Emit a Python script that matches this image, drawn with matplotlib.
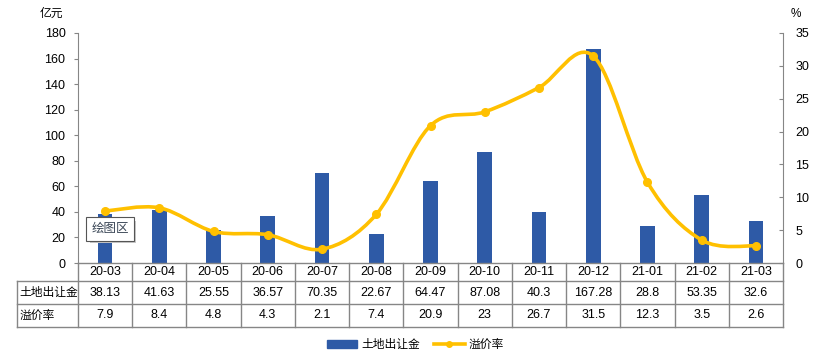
import numpy as np
import matplotlib.pyplot as plt
from matplotlib.path import Path
from matplotlib.patches import PathPatch, Patch
from matplotlib.lines import Line2D

plt.rcParams['font.family'] = ['Liberation Sans', 'Noto Sans CJK SC']

# data
months = ['20-03', '20-04', '20-05', '20-06', '20-07', '20-08', '20-09',
          '20-10', '20-11', '20-12', '21-01', '21-02', '21-03']
land_income = [38.13, 41.63, 25.55, 36.57, 70.35, 22.67, 64.47,
               87.08, 40.3, 167.28, 28.8, 53.35, 32.6]
premium_rate = [7.9, 8.4, 4.8, 4.3, 2.1, 7.4, 20.9,
                23, 26.7, 31.5, 12.3, 3.5, 2.6]
income_labels = ['38.13', '41.63', '25.55', '36.57', '70.35', '22.67', '64.47',
                 '87.08', '40.3', '167.28', '28.8', '53.35', '32.6']
rate_labels = ['7.9', '8.4', '4.8', '4.3', '2.1', '7.4', '20.9',
               '23', '26.7', '31.5', '12.3', '3.5', '2.6']

bar_color = '#2E5AA6'
line_color = '#FFC000'
grey = '#868686'

W, H = 822, 360
fig = plt.figure(figsize=(W / 100, H / 100), dpi=100)
L, R, T, B = 78, 783, 33, 263
ax = fig.add_axes([L / W, 1 - B / H, (R - L) / W, (B - T) / H])
ax2 = ax.twinx()

x = np.arange(len(months))
ax.bar(x, land_income, width=0.27, color=bar_color, zorder=2)
ax.set_xlim(-0.5, len(months) - 0.5)
ax.set_ylim(0, 180)
ax.set_yticks(range(0, 181, 20))
ax2.set_ylim(0, 35)
ax2.set_yticks(range(0, 36, 5))

# smoothed line (Excel style bezier through the points)
pts = np.column_stack([x, premium_rate]).astype(float)
verts = [pts[0]]
codes = [Path.MOVETO]
n = len(pts)
for i in range(n - 1):
    p_prev = pts[i - 1] if i > 0 else pts[i]
    p_next2 = pts[i + 2] if i + 2 < n else pts[i + 1]
    c1 = pts[i] + (pts[i + 1] - p_prev) / 6
    c2 = pts[i + 1] - (p_next2 - pts[i]) / 6
    verts += [c1, c2, pts[i + 1]]
    codes += [Path.CURVE4] * 3
ax2.add_patch(PathPatch(Path(verts, codes), fill=False, edgecolor=line_color,
                        lw=2.6, zorder=3, capstyle='round'))
ax2.plot(x, premium_rate, 'o', color=line_color, ms=5.5, zorder=4)

for a in (ax, ax2):
    for s in a.spines.values():
        s.set_visible(False)
    a.tick_params(labelsize=9, colors='black', length=3, width=0.8)
ax.spines['left'].set_visible(True)
ax.spines['left'].set_color(grey)
ax2.spines['right'].set_visible(True)
ax2.spines['right'].set_color(grey)
ax.tick_params(axis='y', color=grey, pad=6)
ax2.tick_params(axis='y', color=grey, pad=9, direction='in')
ax.set_xticks([])

# data table under the plot
def fy(py):
    return 1 - py / H

def fx(px):
    return px / W

rows = [263, 281, 304, 327]
tl = 17
lk = dict(color=grey, lw=1, transform=fig.transFigure, clip_on=False)
fig.add_artist(Line2D([fx(L), fx(R)], [fy(rows[0])] * 2, **lk))
for r in rows[1:]:
    fig.add_artist(Line2D([fx(tl), fx(R)], [fy(r)] * 2, **lk))
fig.add_artist(Line2D([fx(tl)] * 2, [fy(rows[1]), fy(rows[3])], **lk))
cw = (R - L) / len(months)
for i in range(len(months) + 1):
    xp = L + i * cw
    fig.add_artist(Line2D([fx(xp)] * 2, [fy(rows[0]), fy(rows[3])], **lk))
for i, m in enumerate(months):
    xc = fx(L + (i + 0.5) * cw)
    fig.text(xc, fy((rows[0] + rows[1]) / 2), m, ha='center', va='center', fontsize=9)
    fig.text(xc, fy((rows[1] + rows[2]) / 2), income_labels[i], ha='center', va='center', fontsize=9)
    fig.text(xc, fy((rows[2] + rows[3]) / 2), rate_labels[i], ha='center', va='center', fontsize=9)
fig.text(fx(tl + 2), fy((rows[1] + rows[2]) / 2), '土地出让金', ha='left', va='center', fontsize=8.5)
fig.text(fx(tl + 2), fy((rows[2] + rows[3]) / 2), '溢价率', ha='left', va='center', fontsize=8.5)

# axis unit labels
fig.text(fx(51), fy(14), '亿元', ha='center', va='center', fontsize=8.5)
fig.text(fx(796), fy(14), '%', ha='center', va='center', fontsize=8.5)

# Excel tooltip box with shadow
fig.add_artist(plt.Rectangle((fx(90), fy(243)), fx(46), fy(0) - fy(22),
                             transform=fig.transFigure, fc='#C8C8C8', ec='none', zorder=5))
fig.text(fx(110), fy(229), '绘图区', ha='center', va='center', fontsize=9, color='#3A4656',
         zorder=6, bbox=dict(boxstyle='square,pad=0.45', fc='white', ec='#555555', lw=0.8))

handles = [Patch(color=bar_color),
           Line2D([], [], color=line_color, lw=2.6, marker='o', ms=4)]
fig.legend(handles, ['土地出让金', '溢价率'], loc='center', bbox_to_anchor=(fx(415), fy(345)),
           ncol=2, frameon=False, fontsize=8.5, handlelength=2.6, handleheight=0.6,
           columnspacing=1.2, handletextpad=0.3)

fig.savefig('out.png', dpi=100)
